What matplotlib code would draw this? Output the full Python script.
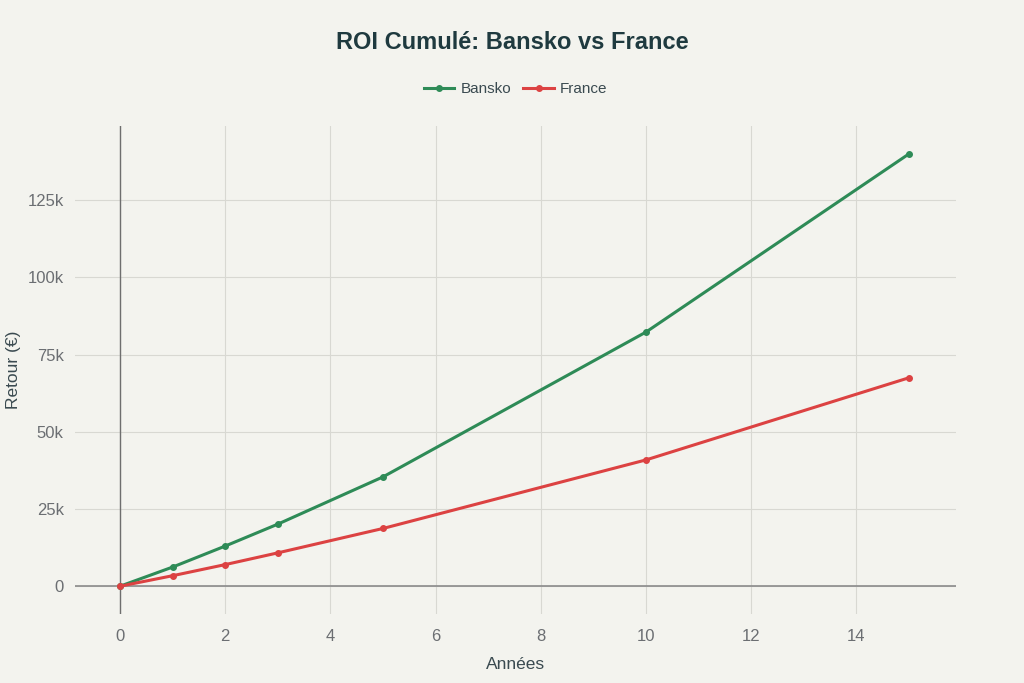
import matplotlib.pyplot as plt
from matplotlib.ticker import FuncFormatter

# Data
years = [0, 1, 2, 3, 5, 10, 15]
bansko = [0, 6200, 13000, 20100, 35400, 82300, 140000]
france = [0, 3400, 7000, 10800, 18700, 40900, 67500]

bg = "#f3f3ee"
plt.rcParams["font.family"] = ["Liberation Sans", "DejaVu Sans"]

fig = plt.figure(figsize=(10.24, 6.83), dpi=100, facecolor=bg)
ax = fig.add_axes([0.073, 0.101, 0.861, 0.7145], facecolor=bg)

ax.plot(years, bansko, color="#2e8b57", lw=2.2, marker="o", ms=4, label="Bansko", zorder=3)
ax.plot(years, france, color="#dc4242", lw=2.2, marker="o", ms=4, label="France", zorder=3)

ax.set_xlim(-0.86, 15.9)
ax.set_ylim(-9000, 149000)
ax.set_xticks(range(0, 15, 2))
ax.set_yticks([0, 25000, 50000, 75000, 100000, 125000])
ax.yaxis.set_major_formatter(FuncFormatter(lambda v, p: "0" if v == 0 else f"{int(v/1000)}k"))

ax.grid(True, color="#d8d8d2", lw=0.8)
ax.axhline(0, color="#8a8a8a", lw=1.2, zorder=2)
ax.axvline(0, color="#6e6e6e", lw=1.0, zorder=2)
for s in ax.spines.values():
    s.set_visible(False)
ax.tick_params(length=0, colors="#6b6e72", labelsize=12)
ax.tick_params(axis="x", pad=11)
ax.tick_params(axis="y", pad=8)

ax.set_xlabel("Années", fontsize=12.5, color="#3a4a50")
ax.set_ylabel("Retour (€)", fontsize=12.5, color="#3a4a50")
ax.xaxis.set_label_coords(0.5, -0.088)
ax.yaxis.set_label_coords(-0.061, 0.5)

fig.text(0.5, 0.938, "ROI Cumulé: Bansko vs France", ha="center", va="center",
         fontsize=17, fontweight="bold", color="#1f3a3f")
leg = ax.legend(loc="center", bbox_to_anchor=(0.5, 1.075), ncol=2, frameon=False,
                fontsize=11, handlelength=2.0, columnspacing=0.8, handletextpad=0.4)
for t in leg.get_texts():
    t.set_color("#3a4a50")

fig.savefig("out.png", dpi=100, facecolor=bg)
